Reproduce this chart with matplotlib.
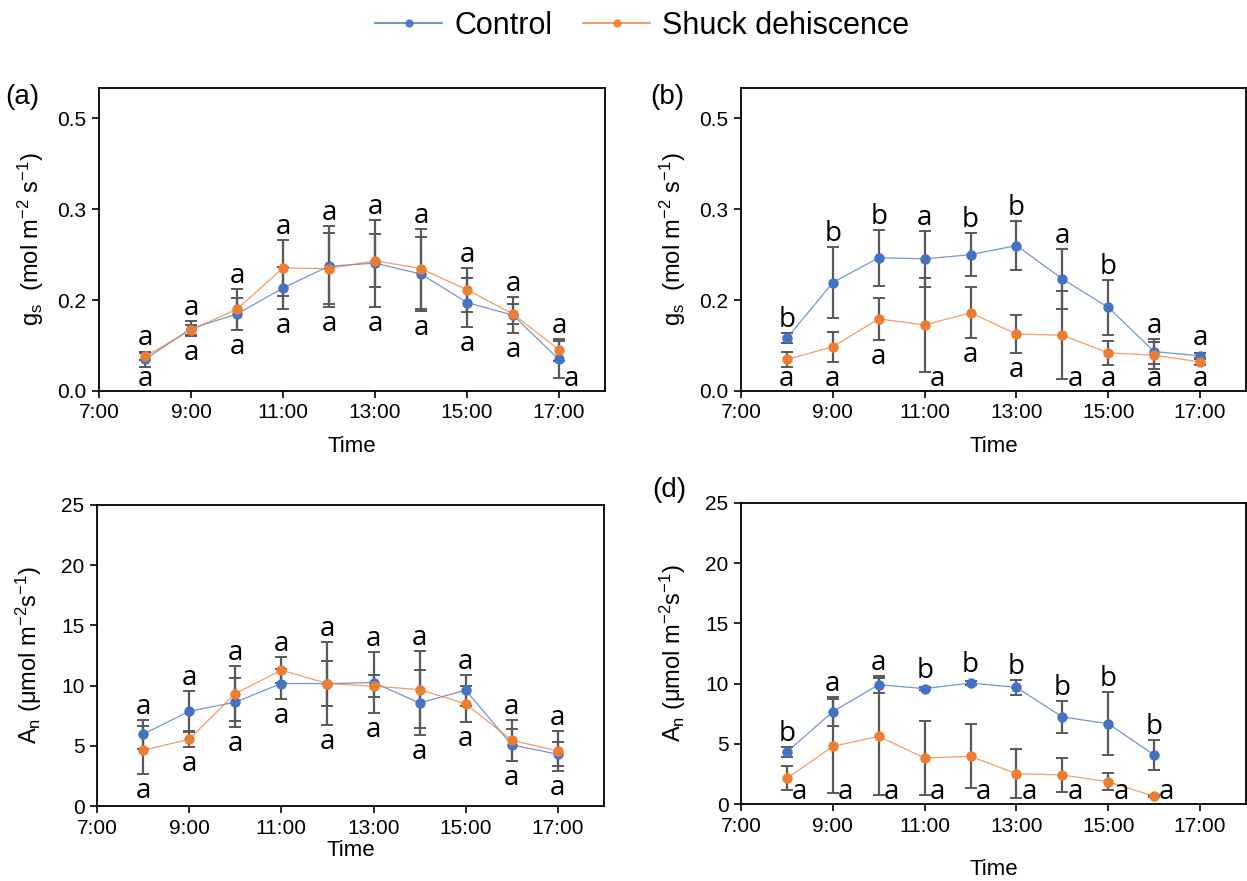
import matplotlib
matplotlib.use("Agg")
import matplotlib.pyplot as plt
from matplotlib.lines import Line2D
import numpy as np

# ---------------- data ----------------
hours_full = [8, 9, 10, 11, 12, 13, 14, 15, 16, 17]
hours_d = [8, 9, 10, 11, 12, 13, 14, 15, 16]
x_tick_hours = [7, 9, 11, 13, 15, 17]
x_tick_labels = ["7:00", "9:00", "11:00", "13:00", "15:00", "17:00"]

gs_ticks = [0.0, 0.15, 0.30, 0.45]
gs_tick_labels = ["0.0", "0.2", "0.3", "0.5"]
an_ticks = [0, 5, 10, 15, 20, 25]
an_tick_labels = ["0", "5", "10", "15", "20", "25"]

# (a) gs
a_ctrl = [0.052, 0.103, 0.127, 0.170, 0.206, 0.211, 0.193, 0.146, 0.125, 0.052]
a_ctrl_err = [0.012, 0.013, 0.027, 0.035, 0.067, 0.072, 0.061, 0.041, 0.030, 0.030]
a_shuck = [0.057, 0.101, 0.135, 0.203, 0.202, 0.215, 0.202, 0.167, 0.127, 0.068]
a_shuck_err = [0.006, 0.008, 0.034, 0.046, 0.059, 0.044, 0.066, 0.036, 0.016, 0.018]
a_top = ["a"] * 10
a_bot = ["a"] * 10

# (b) gs
b_ctrl = [0.087, 0.179, 0.220, 0.218, 0.225, 0.240, 0.185, 0.138, 0.065, 0.058]
b_ctrl_err = [0.008, 0.059, 0.046, 0.046, 0.036, 0.041, 0.049, 0.045, 0.020, 0.004]
b_shuck = [0.052, 0.073, 0.119, 0.109, 0.129, 0.094, 0.092, 0.063, 0.059, 0.048]
b_shuck_err = [0.013, 0.025, 0.035, 0.077, 0.042, 0.032, 0.073, 0.020, 0.022, 0.005]
b_top = ["b", "b", "b", "a", "b", "b", "a", "b", "a", "a"]
b_bot = ["a"] * 10

# (c) An
c_ctrl = [5.96, 7.87, 8.62, 10.17, 10.17, 10.25, 8.56, 9.62, 5.07, 4.30]
c_ctrl_err = [1.2, 1.7, 2.05, 1.25, 3.46, 2.5, 2.7, 1.3, 1.33, 1.0]
c_shuck = [4.63, 5.54, 9.34, 11.28, 10.17, 9.95, 9.67, 8.48, 5.46, 4.57]
c_shuck_err = [2.0, 0.65, 2.27, 1.1, 1.9, 0.9, 3.2, 1.5, 1.7, 1.7]
c_top = ["a"] * 10
c_bot = ["a"] * 10

# (d) An
d_ctrl = [4.32, 7.67, 9.91, 9.58, 10.05, 9.69, 7.23, 6.67, 4.07]
d_ctrl_err = [0.4, 1.2, 0.7, 0.1, 0.15, 0.6, 1.3, 2.6, 1.25]
d_shuck = [2.13, 4.79, 5.62, 3.82, 3.96, 2.52, 2.41, 1.85, 0.64]
d_shuck_err = [1.0, 3.9, 4.85, 3.1, 2.65, 2.05, 1.4, 0.7, 0.1]
d_top = ["b", "a", "a", "b", "b", "b", "b", "b", "b"]
d_bot = ["a"] * 9

series_names = ["Control", "Shuck dehiscence"]

# ---------------- style ----------------
BLUE = "#4472C4"
ORANGE = "#ED7D31"
ERRC = "#595959"
W, H, DPI = 1247, 881, 100
LETTER_FONT = "Open Sans"
LETTER_SIZE = 20

plt.rcParams["font.family"] = ["Liberation Sans", "DejaVu Sans"]
plt.rcParams["mathtext.fontset"] = "custom"
plt.rcParams["mathtext.rm"] = "Liberation Sans"
plt.rcParams["mathtext.it"] = "Liberation Sans"

fig = plt.figure(figsize=(W / DPI, H / DPI), dpi=DPI)


def add_ax(left, top, right, bottom):
    return fig.add_axes([left / W, (H - bottom) / H, (right - left) / W, (bottom - top) / H])


def draw_panel(ax, x, ctrl, ctrl_err, shuck, shuck_err, top_letters, bot_letters,
               ylim, yticks, yticklabels, ylabel, time_pad):
    ax.set_xlim(7, 18)
    ax.set_ylim(*ylim)
    for vals, errs in ((ctrl, ctrl_err), (shuck, shuck_err)):
        ax.errorbar(x, vals, yerr=errs, fmt="none", ecolor=ERRC, elinewidth=1.6,
                    capsize=4.5, capthick=1.4, zorder=2)
    ax.plot(x, ctrl, color=BLUE, lw=0.9, alpha=0.75, zorder=3)
    ax.plot(x, ctrl, "o", color=BLUE, ms=7.5, zorder=4, mec="none")
    ax.plot(x, shuck, color=ORANGE, lw=0.9, alpha=0.75, zorder=3)
    ax.plot(x, shuck, "o", color=ORANGE, ms=7.5, zorder=5, mec="none")

    ax.set_xticks(x_tick_hours)
    ax.set_xticklabels(x_tick_labels)
    ax.set_yticks(yticks)
    ax.set_yticklabels(yticklabels)
    ax.tick_params(axis="both", labelsize=15, length=5, width=1.2, direction="out", pad=4)
    for s in ax.spines.values():
        s.set_linewidth(1.3)
    ax.set_xlabel("Time", fontsize=16, labelpad=time_pad)
    ax.set_ylabel(ylabel, fontsize=17, va="center")
    bb = ax.get_position()
    ax_h_px = bb.height * H
    ax_w_px = bb.width * W
    ax.yaxis.set_label_coords(-68 / ax_w_px, 0.5)

    yr = ylim[1] - ylim[0]
    px_per_unit = ax_h_px / yr
    pt = 72 / DPI
    for i, xi in enumerate(x):
        hi = max(ctrl[i] + ctrl_err[i], shuck[i] + shuck_err[i])
        hi_px = max((hi - ylim[0]) * px_per_unit, (max(ctrl[i], shuck[i]) - ylim[0]) * px_per_unit + 5)
        lo = min(ctrl[i] - ctrl_err[i], shuck[i] - shuck_err[i])
        lo_px = (lo - ylim[0]) * px_per_unit
        lo_pt_px = (min(ctrl[i], shuck[i]) - ylim[0]) * px_per_unit
        lo_px = min(lo_px, lo_pt_px - 5)
        ax.annotate(top_letters[i], xy=(xi, ylim[0]), xycoords="data",
                    xytext=(0, (hi_px + 6) * pt), textcoords="offset points",
                    ha="center", va="baseline", fontsize=LETTER_SIZE, family=LETTER_FONT,
                    annotation_clip=False)
        base = lo_px - 24
        floor = 5
        if base < floor - 7:
            ax.annotate(bot_letters[i], xy=(xi, ylim[0]), xycoords="data",
                        xytext=(5 * pt, floor * pt), textcoords="offset points",
                        ha="left", va="baseline", fontsize=LETTER_SIZE, family=LETTER_FONT,
                        annotation_clip=False)
        else:
            ax.annotate(bot_letters[i], xy=(xi, ylim[0]), xycoords="data",
                        xytext=(0, max(base, floor) * pt), textcoords="offset points",
                        ha="center", va="baseline", fontsize=LETTER_SIZE, family=LETTER_FONT,
                        annotation_clip=False)


gs_label = r"g$_\mathregular{s}$  (mol m$^\mathregular{-2}$ s$^\mathregular{-1}$)"
an_label = r"A$_\mathregular{n}$ (μmol m$^\mathregular{-2}$s$^\mathregular{-1}$)"

ax_a = add_ax(99, 88, 605, 391)
ax_b = add_ax(741, 88, 1246, 391)
ax_c = add_ax(97, 505, 604, 806)
ax_d = add_ax(741, 503, 1246, 804)

draw_panel(ax_a, hours_full, a_ctrl, a_ctrl_err, a_shuck, a_shuck_err, a_top, a_bot,
           (0, 0.5), gs_ticks, gs_tick_labels, gs_label, 10)
draw_panel(ax_b, hours_full, b_ctrl, b_ctrl_err, b_shuck, b_shuck_err, b_top, b_bot,
           (0, 0.5), gs_ticks, gs_tick_labels, gs_label, 10)
draw_panel(ax_c, hours_full, c_ctrl, c_ctrl_err, c_shuck, c_shuck_err, c_top, c_bot,
           (0, 25), an_ticks, an_tick_labels, an_label, 2)
draw_panel(ax_d, hours_d, d_ctrl, d_ctrl_err, d_shuck, d_shuck_err, d_top, d_bot,
           (0, 25), an_ticks, an_tick_labels, an_label, 17)

fig.text(5 / W, 1 - 97 / H, "(a)", fontsize=20, va="center", ha="left")
fig.text(650 / W, 1 - 97 / H, "(b)", fontsize=20, va="center", ha="left")
fig.text(652 / W, 1 - 490 / H, "(d)", fontsize=20, va="center", ha="left")

handles = [Line2D([0], [0], color=BLUE, lw=1.2, marker="o", ms=6, mfc=BLUE, mec="none", alpha=0.9),
           Line2D([0], [0], color=ORANGE, lw=1.2, marker="o", ms=6, mfc=ORANGE, mec="none", alpha=0.9)]
fig.legend(handles, series_names, loc="center", bbox_to_anchor=(0.515, 1 - 26 / H),
           ncol=2, frameon=False, fontsize=22, handlelength=2.2, handletextpad=0.4,
           columnspacing=1.0)

fig.savefig("out.png", dpi=DPI)
